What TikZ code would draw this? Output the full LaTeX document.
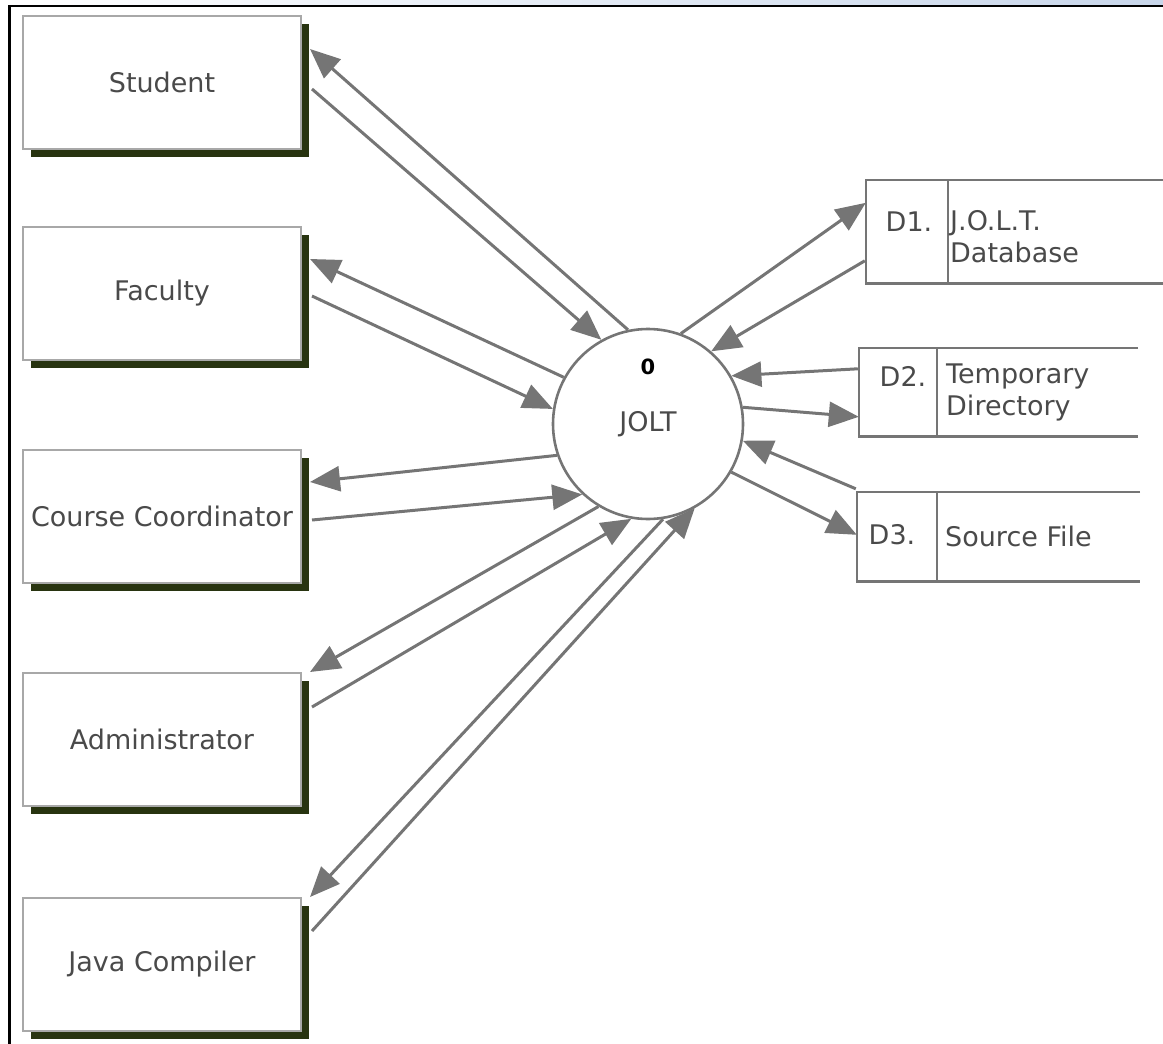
\documentclass[tikz,border=0pt]{standalone}
\usepackage{fontspec}
\setmainfont{DejaVu Sans}
\usetikzlibrary{arrows.meta,shadows,calc}
\definecolor{lg}{HTML}{757575}
\definecolor{boxedge}{HTML}{A8A8A8}
\definecolor{shadecol}{RGB}{40,52,16}
\definecolor{txt}{HTML}{4A4A4A}
\definecolor{topblue}{RGB}{200,214,234}
\newcommand\dfdfont{\fontsize{27}{32}\selectfont}
\begin{document}
\begin{tikzpicture}[x=1pt,y=-1pt,
  entity/.style={draw=boxedge, line width=2pt, fill=white, minimum width=278pt,
    minimum height=133pt, inner sep=0pt, text=txt, font=\dfdfont,
    drop shadow={shadow xshift=8pt, shadow yshift=-8pt, fill=shadecol, opacity=1}},
  flow/.style={draw=lg, line width=3pt, -{Triangle[length=30pt,width=25pt]}},
  storebox/.style={draw=none, inner sep=0pt},
  storeline/.style={draw=lg, line width=2.6pt},
  lbl/.style={inner sep=0pt, text=txt, font=\dfdfont, align=left}]
\useasboundingbox (0,0) rectangle (1163,1044);
\shade[left color=white, right color=topblue] (0,0) rectangle (1163,5);
\draw[black, line width=2.6pt] (9.3,1044) -- (9.3,6) -- (1163,6);

% external entities
\node[entity] (stu) at (162,82.5) {Student};
\node[entity] (fac) at (162,293.5) {Faculty};
\node[entity] (cc) at (162,516.5) {Course Coordinator};
\node[entity] (adm) at (162,739.5) {Administrator};
\node[entity] (jav) at (162,964.5) {Java Compiler};

% process
\node[circle, draw=lg, line width=2.6pt, minimum size=190pt, inner sep=0pt, fill=white,
  text=txt, font=\dfdfont] (jolt) at (648,424) {JOLT};
\node[inner sep=0pt, font=\fontsize{21}{24}\selectfont\bfseries] (jnum) at (648,367) {0};

% data stores
\node[storebox, minimum width=297pt, minimum height=103pt] (d1) at (1014.5,231.5) {};
\node[storebox, minimum width=279pt, minimum height=88pt] (d2) at (998.5,392) {};
\node[storebox, minimum width=283pt, minimum height=89pt] (d3) at (998.5,536.5) {};
\draw[storeline] (d1.north east) -- (d1.north west) -- (d1.south west) -- (d1.south east);
\draw[storeline] ($(d1.north west)+(82,0)$) -- ($(d1.south west)+(82,0)$);
\draw[storeline] (d2.north east) -- (d2.north west) -- (d2.south west) -- (d2.south east);
\draw[storeline] ($(d2.north west)+(78,0)$) -- ($(d2.south west)+(78,0)$);
\draw[storeline] (d3.north east) -- (d3.north west) -- (d3.south west) -- (d3.south east);
\draw[storeline] ($(d3.north west)+(80,0)$) -- ($(d3.south west)+(80,0)$);

\node[lbl] (d1id) at (909,222) {D1.};
\node[lbl, anchor=west] (d1name) at (950,236.5) {J.O.L.T.\\Database};
\node[lbl] (d2id) at (903,376) {D2.};
\node[lbl, anchor=west] (d2name) at (946,392) {Temporary\\Directory};
\node[lbl] (d3id) at (892,535) {D3.};
\node[lbl, anchor=west] (d3name) at (945,536) {Source File};

% flows with entities
\draw[flow] (jolt.102) -- ($(stu.north east)+(8,34)$);
\draw[flow] ($(stu.north east)+(10,74)$) -- (jolt.119);
\draw[flow] (jolt.151) -- ($(fac.north east)+(8,33)$);
\draw[flow] ($(fac.north east)+(10,70)$) -- (jolt.171);
\draw[flow] (jolt.199) -- ($(cc.north east)+(8,33)$);
\draw[flow] ($(cc.north east)+(10,71)$) -- (jolt.227);
\draw[flow] (jolt.239) -- ($(adm.north east)+(8,0)$);
\draw[flow] ($(adm.north east)+(10,35)$) -- (jolt.260);
\draw[flow] (jolt.279) -- ($(jav.north east)+(8,0)$);
\draw[flow] ($(jav.north east)+(10,34)$) -- (jolt.299);

% flows with data stores
\draw[flow] (jolt.70) -- ($(d1.north west)+(0,23)$);
\draw[flow] ($(d1.north west)+(-1,81)$) -- (jolt.49);
\draw[flow] ($(d2.north west)+(-1,21)$) -- (jolt.30);
\draw[flow] (jolt.10) -- ($(d2.north west)+(0,69)$);
\draw[flow] ($(d3.north west)+(-1,-3)$) -- (jolt.350);
\draw[flow] (jolt.330) -- ($(d3.north west)+(0,43)$);
\end{tikzpicture}
\end{document}
